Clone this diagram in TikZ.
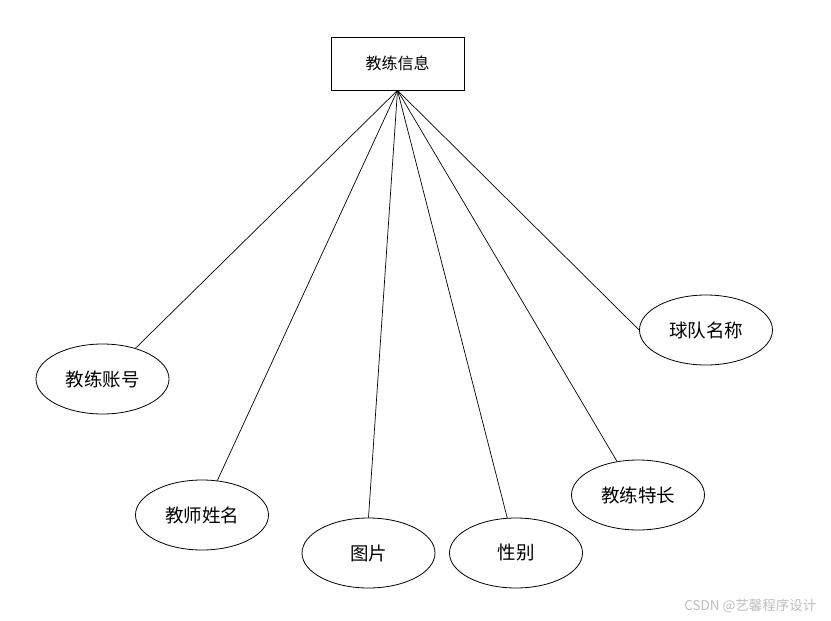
\documentclass[tikz,border=0pt]{standalone}
\usepackage{fontspec}
\setmainfont{Noto Sans CJK SC}
\usetikzlibrary{shapes.geometric}
\definecolor{markgray}{RGB}{190,190,190}

\begin{document}
\begin{tikzpicture}[
    x=1pt, y=-1pt,
    entity/.style={draw, thick, minimum width=133pt, minimum height=53pt, inner sep=0pt, font=\fontsize{16}{18}\selectfont},
    attr/.style={draw, thick, ellipse, minimum width=133pt, minimum height=70pt, inner sep=0pt, font=\fontsize{18.5}{20}\selectfont},
    link/.style={line width=0.7pt},
]
    \useasboundingbox (0,0) rectangle (831,621);

    \node[entity] (coach) at (397.5,63.5) {教练信息};

    \node[attr] (account) at (102.5,379) {教练账号};
    \node[attr] (tname)   at (202,515)   {教师姓名};
    \node[attr] (photo)   at (368.5,553) {图片};
    \node[attr] (gender)  at (516,553)   {性别};
    \node[attr] (skill)   at (638,495)   {教练特长};
    \node[attr] (team)    at (706,330)   {球队名称};

    % attribute links
    \draw[link] (coach.south) -- (account.43);
    \draw[link] (coach.south) -- (tname.66);
    \draw[link] (coach.south) -- (photo.90);
    \draw[link] (coach.south) -- (gender.104);
    \draw[link] (coach.south) -- (skill.122);
    \draw[link] (coach.south) -- (team.west);

    \node[text=markgray, font=\fontsize{13.5}{15}\selectfont, anchor=east] (mark) at (820,606) {CSDN @艺馨程序设计};
\end{tikzpicture}
\end{document}
